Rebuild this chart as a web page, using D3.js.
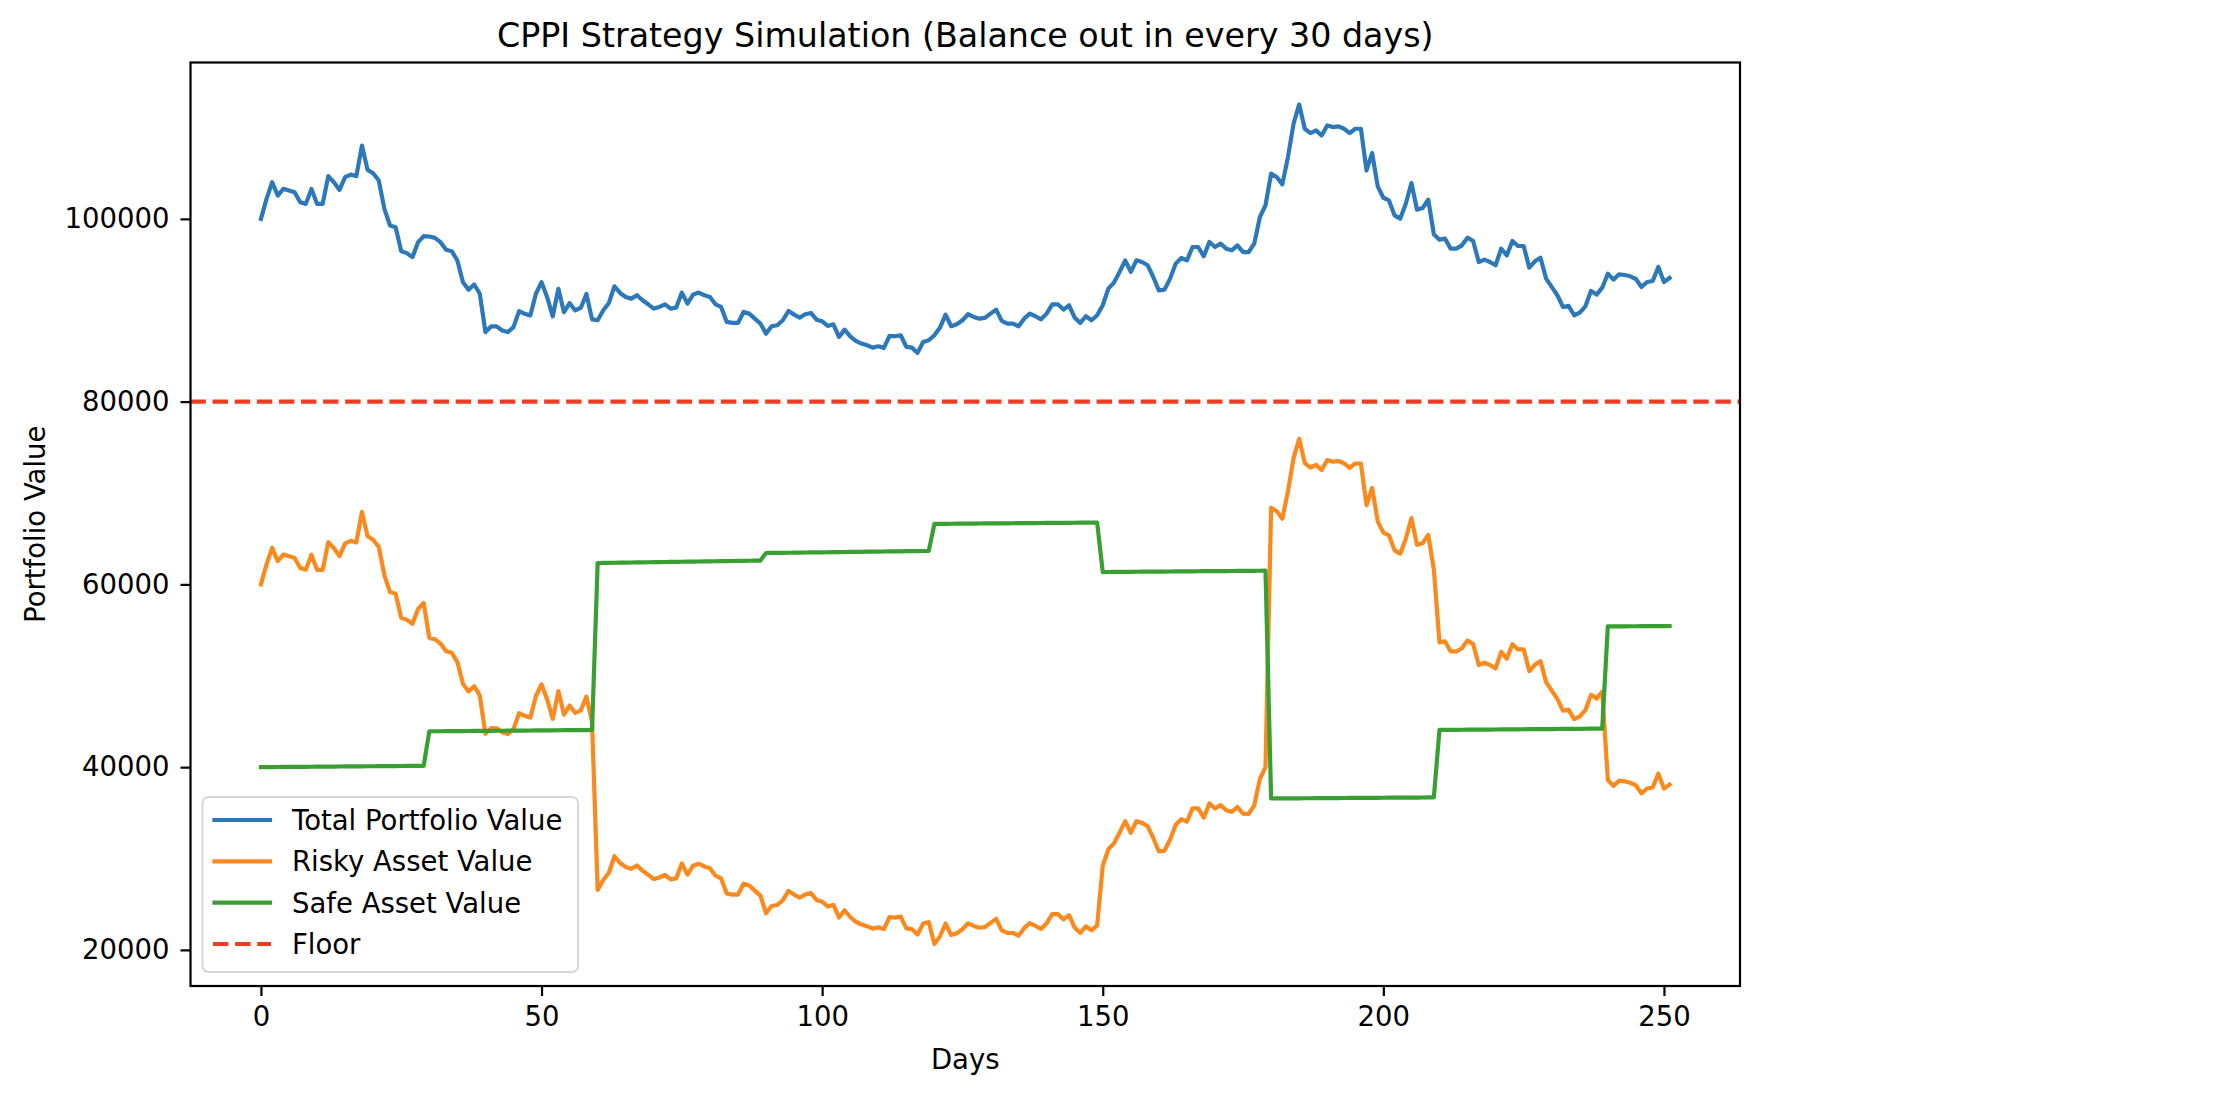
<!DOCTYPE html>
<html><head><meta charset="utf-8">
<script src="https://cdn.jsdelivr.net/npm/d3@7"></script>
<style>
body{margin:0;background:#fff;}
svg{display:block;}
text{font-family:"DejaVu Sans",sans-serif;fill:#000;}
</style>
</head><body>
<svg id="chart" width="2216" height="1098"></svg>
<script>
// ---------------- data ----------------
const days = d3.range(0, 252);

const totalValue = [100000,102190,104010,102550,103280,103100,102920,101820,101640,103280,
101640,101640,104670,104010,103170,104560,104850,104670,108020,105360,
104990,104190,101090,99270,99090,96460,96250,95810,97450,98100,
98070,97920,97450,96610,96460,95440,93070,92240,92820,91800,
87610,88230,88230,87790,87610,88150,89900,89610,89430,91800,
93070,91430,89320,92350,89790,90780,89980,90270,91780,89000,
88900,90000,90800,92620,91890,91450,91270,91640,91090,90650,
90180,90360,90650,90180,90290,91930,90720,91710,91930,91640,
91450,90650,90360,88720,88610,88610,89810,89630,89080,88540,
87440,88250,88360,88900,89920,89520,89190,89560,89700,88970,
88790,88280,88460,87080,87880,87150,86640,86350,86170,85910,
86060,85880,87190,87150,87260,85990,85910,85330,86530,86710,
87260,88100,89520,88250,88460,88900,89560,89270,89080,89160,
89630,90070,88830,88540,88540,88250,89080,89630,89340,89010,
89630,90650,90650,90070,90540,89190,88610,89340,88900,89450,
90550,92360,93020,94190,95460,94190,95460,95280,94920,93640,
92180,92250,93460,95100,95720,95460,96920,96920,95900,97470,
96920,97290,96740,96560,97100,96370,96370,97290,100200,101480,
104950,104580,103770,106760,110410,112520,109860,109390,109680,109130,
110220,110040,110120,109860,109390,109860,109860,105300,107200,103550,
102310,102020,100380,100020,101660,103920,101000,101190,102100,98310,
97720,97830,96740,96740,97100,97940,97580,95280,95540,95280,
94920,96740,96010,97580,97030,97030,94660,95350,95750,93460,
92550,91640,90360,90470,89450,89740,90430,92110,91710,92470,
94000,93350,93930,93860,93710,93420,92550,93090,93200,94730,
93090,93530];

const riskyValue = [60000,62190,64000,62540,63260,63080,62890,61790,61600,63240,
61590,61590,64610,63950,63100,64490,64770,64590,67930,65270,
64890,64090,60980,59160,58970,56340,56120,55680,57310,57960,
54150,54000,53520,52680,52520,51500,49120,48290,48860,47840,
43640,44260,44250,43810,43620,44160,45900,45610,45420,47790,
49050,47410,45290,48320,45750,46740,45930,46220,47720,44940,
26560,27650,28440,30250,29510,29070,28880,29240,28680,28230,
27750,27920,28200,27720,27820,29460,28240,29220,29430,29130,
28930,28120,27820,26170,26050,26050,27240,27050,26490,25940,
24010,24810,24910,25450,26460,26050,25710,26070,26210,25470,
25280,24760,24930,23550,24340,23600,23080,22780,22600,22330,
22470,22280,23580,23540,23640,22360,22270,21680,22880,23050,
20640,21480,22890,21620,21820,22260,22910,22620,22420,22500,
22960,23400,22150,21860,21850,21560,22380,22930,22630,22300,
22910,23930,23920,23340,23800,22450,21860,22590,22140,22690,
29200,31010,31660,32830,34090,32820,34080,33900,33530,32250,
30780,30850,32050,33690,34300,34040,35490,35490,34460,36030,
35470,35840,35280,35100,35630,34900,34890,35810,38710,39990,
68380,68010,67190,70180,73820,75930,73270,72790,73080,72520,
73610,73430,73500,73240,72760,73230,73230,68660,70560,66900,
65660,65370,63720,63360,64990,67250,64330,64510,65420,61620,
53650,53760,52660,52660,53010,53850,53480,51180,51430,51170,
50800,52620,51880,53450,52890,52890,50510,51200,51590,49300,
48380,47470,46180,46290,45260,45550,46230,47910,47500,48260,
38600,37950,38520,38450,38290,38000,37130,37660,37770,39290,
37650,38090];

const safeValue = [40000,40005,40010,40015,40020,40025,40030,40035,40040,40045,
40050,40055,40060,40065,40070,40075,40080,40085,40090,40095,
40100,40105,40110,40115,40120,40125,40130,40135,40140,40145,
43920,43925,43930,43935,43940,43945,43950,43955,43960,43965,
43970,43975,43980,43985,43990,43995,44000,44005,44010,44015,
44020,44025,44030,44035,44040,44045,44050,44055,44060,44065,
62340,62349,62358,62367,62376,62385,62394,62403,62412,62421,
62430,62439,62448,62457,62466,62475,62484,62493,62502,62511,
62520,62529,62538,62547,62556,62565,62574,62583,62592,62601,
63430,63438,63446,63454,63462,63470,63478,63486,63494,63502,
63510,63518,63526,63534,63542,63550,63558,63566,63574,63582,
63590,63598,63606,63614,63622,63630,63638,63646,63654,63662,
66620,66625,66630,66635,66640,66645,66650,66655,66660,66665,
66670,66675,66680,66685,66690,66695,66700,66705,66710,66715,
66720,66725,66730,66735,66740,66745,66750,66755,66760,66765,
61350,61355,61360,61365,61370,61375,61380,61385,61390,61395,
61400,61405,61410,61415,61420,61425,61430,61435,61440,61445,
61450,61455,61460,61465,61470,61475,61480,61485,61490,61495,
36570,36574,36578,36582,36586,36590,36594,36598,36602,36606,
36610,36614,36618,36622,36626,36630,36634,36638,36642,36646,
36650,36654,36658,36662,36666,36670,36674,36678,36682,36686,
44070,44075,44080,44085,44090,44095,44100,44105,44110,44115,
44120,44125,44130,44135,44140,44145,44150,44155,44160,44165,
44170,44175,44180,44185,44190,44195,44200,44205,44210,44215,
55400,55404,55408,55412,55416,55420,55424,55428,55432,55436,
55440,55444];

const floorValue = 80000;
const xTickValues = [0, 50, 100, 150, 200, 250];
const yTickValues = [20000, 40000, 60000, 80000, 100000];
const seriesLabels = ["Total Portfolio Value", "Risky Asset Value", "Safe Asset Value", "Floor"];
const titleText = "CPPI Strategy Simulation (Balance out in every 30 days)";
const xLabelText = "Days";
const yLabelText = "Portfolio Value";

// ---------------- layout / style ----------------
const colors = ["#2d78b8", "#fa8a1e", "#3a9f32", "#f03c22"];
const L = 190.5, R = 1740, T = 62.5, B = 986;
const fs = 27.5, lw = 4.2, axw = 2.2;

const svg = d3.select("#chart");
const x = d3.scaleLinear().domain([-12.55, 263.55]).range([L, R]);
const y = d3.scaleLinear().domain([16050, 117110]).range([B, T]);

svg.append("defs").append("clipPath").attr("id", "clip")
  .append("rect").attr("x", L).attr("y", T).attr("width", R - L).attr("height", B - T);

const plot = svg.append("g").attr("clip-path", "url(#clip)");

const line = d3.line().x((d, i) => x(days[i])).y(d => y(d));
[totalValue, riskyValue, safeValue].forEach((arr, k) => {
  plot.append("path").datum(arr)
    .attr("d", line)
    .attr("fill", "none")
    .attr("stroke", colors[k])
    .attr("stroke-width", lw)
    .attr("stroke-linejoin", "round")
    .attr("stroke-linecap", "square");
});

// floor line (axhline across whole axes)
plot.append("line")
  .attr("x1", L).attr("x2", R)
  .attr("y1", y(floorValue)).attr("y2", y(floorValue))
  .attr("stroke", colors[3]).attr("stroke-width", lw)
  .attr("stroke-dasharray", "15.4,6.7");

// axes
const xAxis = svg.append("g").attr("transform", `translate(0,${B})`)
  .call(d3.axisBottom(x).tickValues(xTickValues).tickSize(10).tickPadding(10).tickFormat(d3.format("d")));
const yAxis = svg.append("g").attr("transform", `translate(${L},0)`)
  .call(d3.axisLeft(y).tickValues(yTickValues).tickSize(10).tickPadding(11).tickFormat(d3.format("d")));
[xAxis, yAxis].forEach(g => {
  g.select(".domain").remove();
  g.selectAll(".tick line").attr("stroke", "#000").attr("stroke-width", axw);
  g.selectAll(".tick text").attr("font-size", fs).attr("font-family", "DejaVu Sans").attr("fill", "#000");
});

// frame
svg.append("rect").attr("x", L).attr("y", T).attr("width", R - L).attr("height", B - T)
  .attr("fill", "none").attr("stroke", "#000").attr("stroke-width", axw);

// title and labels
svg.append("text").attr("x", (L + R) / 2).attr("y", 47).attr("text-anchor", "middle")
  .attr("font-size", 33.3).text(titleText);
svg.append("text").attr("x", (L + R) / 2).attr("y", 1069).attr("text-anchor", "middle")
  .attr("font-size", fs).text(xLabelText);
svg.append("text").attr("transform", `translate(45,${(T + B) / 2}) rotate(-90)`)
  .attr("text-anchor", "middle").attr("font-size", fs).text(yLabelText);

// legend
const lg = svg.append("g");
lg.append("rect").attr("x", 202.5).attr("y", 797).attr("width", 375.5).attr("height", 175)
  .attr("rx", 6).attr("ry", 6)
  .attr("fill", "#fff").attr("fill-opacity", 0.8)
  .attr("stroke", "#cccccc").attr("stroke-opacity", 0.8).attr("stroke-width", 2);
const rowY = [820, 861.3, 902.6, 944];
seriesLabels.forEach((name, k) => {
  const ln = lg.append("line")
    .attr("x1", 214.5).attr("x2", 270)
    .attr("y1", rowY[k]).attr("y2", rowY[k])
    .attr("stroke", colors[k]).attr("stroke-width", lw);
  if (k === 3) ln.attr("x1", 213).attr("x2", 271).attr("stroke-dasharray", "15.4,6.7");
  else ln.attr("stroke-linecap", "square");
  lg.append("text").attr("x", 292).attr("y", rowY[k] + 10).attr("font-size", fs).text(name);
});
</script>
</body></html>
